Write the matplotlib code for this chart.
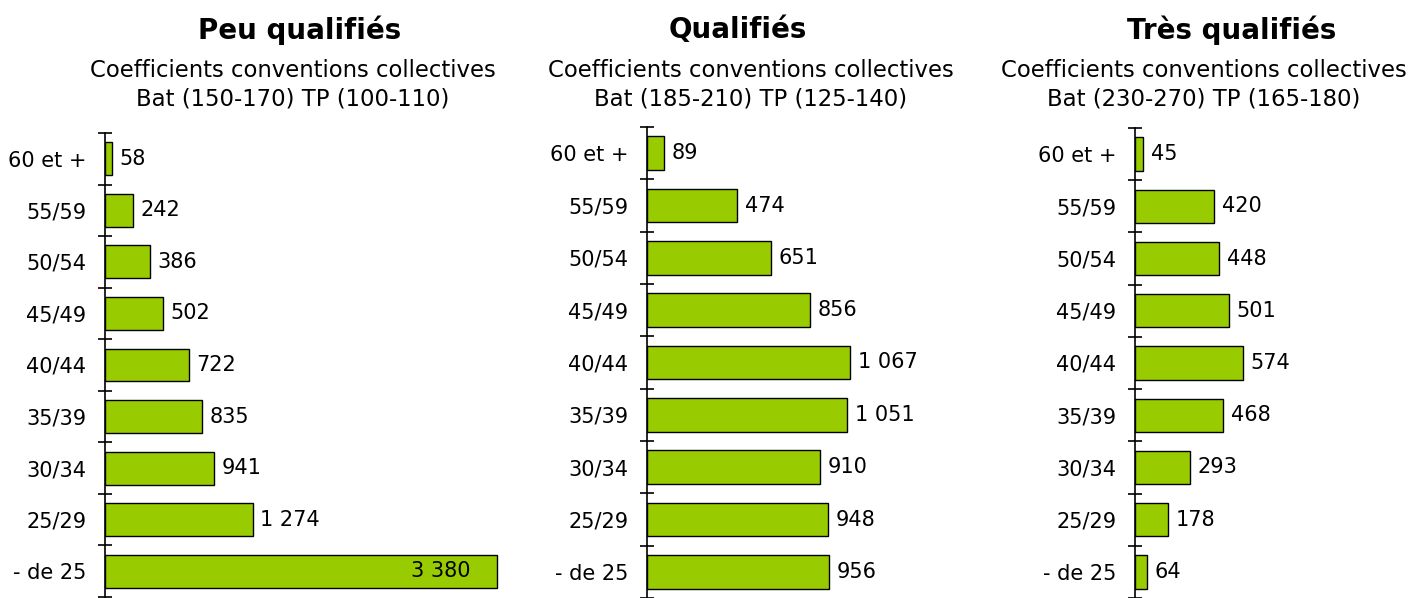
import matplotlib.pyplot as plt

# age groups, bottom to top
ages = ["- de 25", "25/29", "30/34", "35/39", "40/44", "45/49", "50/54", "55/59", "60 et +"]

peu_qualifies = [3380, 1274, 941, 835, 722, 502, 386, 242, 58]
qualifies = [956, 948, 910, 1051, 1067, 856, 651, 474, 89]
tres_qualifies = [64, 178, 293, 468, 574, 501, 448, 420, 45]

titles = ["Peu qualifiés", "Qualifiés", "Très qualifiés"]
subtitles = [
    "Coefficients conventions collectives\nBat (150-170) TP (100-110)",
    "Coefficients conventions collectives\nBat (185-210) TP (125-140)",
    "Coefficients conventions collectives\nBat (230-270) TP (165-180)",
]

BAR_COLOR = "#99CC00"
W, H = 1413, 598

plt.rcParams['font.family'] = ['DejaVu Sans']


def fmt(v):
    # french style thousands separator
    return f"{v:,}".replace(",", " ")


fig = plt.figure(figsize=(W / 100, H / 100), dpi=100)

# panel boxes in pixels: left, right, top, bottom, xmax
panels = [
    (105, 540, 133, 597, 3750),
    (647, 929, 127, 598, 1480),
    (1135, 1413, 128, 598, 1480),
]
title_x = [300, 738, 1232]
sub_x = [293, 751, 1204]
series = [peu_qualifies, qualifies, tres_qualifies]

for i, (left, right, top, bottom, xmax) in enumerate(panels):
    ax = fig.add_axes([left / W, 1 - bottom / H, (right - left) / W, (bottom - top) / H])
    vals = series[i]
    y = range(len(ages))
    ax.barh(y, vals, height=0.64, color=BAR_COLOR, edgecolor="black", linewidth=1)
    ax.set_xlim(0, xmax)
    ax.set_ylim(-0.5, len(ages) - 0.5)

    for s in ["top", "right", "bottom"]:
        ax.spines[s].set_visible(False)
    ax.spines["left"].set_linewidth(1.2)
    ax.set_xticks([])

    ax.set_yticks(list(y))
    ax.set_yticklabels(ages, fontsize=15)
    ax.tick_params(axis="y", which="major", length=0, pad=13.5)
    ax.set_yticks([k - 0.5 for k in range(len(ages) + 1)], minor=True)
    ax.tick_params(axis="y", which="minor", direction="inout", length=10, width=1.2)

    for k, v in enumerate(vals):
        if v > 0.8 * xmax:
            ax.annotate(fmt(v), (v, k), xytext=(-19, 0), textcoords="offset points",
                        ha="right", va="center", fontsize=15)
        else:
            ax.annotate(fmt(v), (v, k), xytext=(5.5, 0), textcoords="offset points",
                        ha="left", va="center", fontsize=15)

    fig.text(title_x[i] / W, 1 - 30 / H, titles[i], ha="center", va="center",
             fontsize=20, fontweight="bold")
    fig.text(sub_x[i] / W, 1 - 85 / H, subtitles[i], ha="center", va="center",
             fontsize=16.4, multialignment="center", linespacing=1.3)

fig.savefig("out.png", dpi=100)
